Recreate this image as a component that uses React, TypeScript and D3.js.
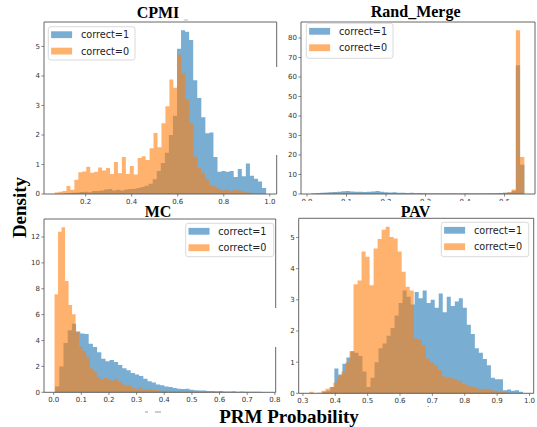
import React from 'react';
import * as d3 from 'd3';

// ---------- data (density histograms, each series: bin start, bin width, densities) ----------
const seriesNames = ['correct=1', 'correct=0'];

const cpmiBlueStart = 0.104, cpmiBlueWidth = 0.0176;
const cpmiBlue = [0.02,0.03,0.04,0.05,0.07,0.08,0.06,0.1,0.1,0.12,0.15,0.17,0.12,0.14,0.12,0.15,0.17,0.18,0.2,0.24,0.28,0.35,0.5,0.78,1.05,1.4,2.0,2.65,4.92,5.55,5.5,5.22,3.85,3.25,2.6,2.06,2.08,1.25,0.75,0.78,0.75,0.78,0.58,0.85,0.6,1.03,0.62,0.52,0.42,0.2];
const cpmiOrangeStart = 0.065, cpmiOrangeWidth = 0.0172;
const cpmiOrange = [0.05,0.08,0.1,0.27,0.14,0.48,0.74,0.76,0.92,0.72,0.75,0.9,0.8,0.88,0.68,1.08,0.7,1.25,0.68,0.95,0.66,1.22,1.28,1.15,1.55,2.07,1.58,2.4,2.97,3.88,3.6,4.73,4.1,3.2,2.4,1.26,0.88,0.72,0.5,0.3,0.25,0.18,0.12,0.15,0.1,0.14,0.12,0.1,0.06,0.04];

const rmStart = 0.0117, rmWidth = 0.01077;
const rmBlue = [0.3,0.5,0.7,0.8,0.9,1.0,1.1,1.4,1.5,1.3,1.1,1.2,1.0,1.1,1.3,1.6,1.2,0.9,0.8,0.9,0.7,0.6,0.5,0.6,0.4,0.5,0.4,0.3,0.3,0.3,0.2,0.3,0.2,0.2,0.3,0.2,0.2,0.3,0.2,0.3,0.2,0.3,0.3,0.4,0.5,0.6,0.8,1.5,66,15];
const rmOrange = [0.2,0.4,0.5,0.5,0.6,0.5,0.6,0.5,0.6,0.5,0.5,0.6,0.5,0.4,0.5,0.5,0.4,0.5,0.4,0.4,0.4,0.3,0.4,0.3,0.3,0.4,0.3,0.3,0.4,0.3,0.3,0.3,0.4,0.3,0.3,0.3,0.4,0.3,0.3,0.4,0.3,0.4,0.4,0.4,0.5,0.6,0.9,2.3,84,19];

const mcBlueStart = 0.005, mcBlueWidth = 0.0152;
const mcBlue = [0.45,2.0,3.8,4.8,5.3,4.7,4.55,4.5,3.75,3.5,3.1,2.6,2.4,2.5,2.35,2.1,1.85,1.7,1.5,1.38,1.25,1.05,0.85,0.75,0.6,0.55,0.45,0.4,0.33,0.28,0.25,0.28,0.2,0.15,0.14,0.13,0.11,0.1,0.09,0.1,0.07,0.06,0.08,0.05,0.06,0.05,0.04,0.05,0.04,0.03];
const mcOrangeStart = 0.003, mcOrangeWidth = 0.0127;
const mcOrange = [7.57,12.4,12.75,8.6,6.74,6.02,4.63,3.52,3.19,2.75,1.85,1.6,1.2,0.95,1.1,1.0,0.9,1.05,0.8,0.6,0.5,0.55,0.35,0.25,0.35,0.2,0.25,0.2,0.18,0.15,0.12,0.1,0.12,0.08,0.08,0.06,0.05,0.06,0.04,0.03,0.03,0.02,0.03,0.02,0.01,0.02,0.01,0.01,0.01,0.01];

const pavBlueStart = 0.36, pavBlueWidth = 0.0124;
const pavBlue = [0.05,0.08,0.2,0.8,0.6,0.95,1.15,1.35,1.3,1.2,0.7,0.2,0.5,1.0,1.45,1.6,1.85,2.1,2.5,2.9,3.3,3.1,2.85,3.25,3.05,3.3,2.9,3.0,2.75,3.2,2.6,3.1,2.8,2.95,3.05,2.75,2.2,1.9,1.45,1.3,1.1,0.9,0.5,0.45,0.45,0.1,0.12,0.08,0.1,0.05];
const pavOrangeStart = 0.32, pavOrangeWidth = 0.0124;
const pavOrange = [0.05,0.0,0.02,0.08,0.15,0.2,0.35,0.55,0.7,1.0,1.35,3.5,3.62,4.55,4.38,3.47,4.65,4.95,5.25,5.35,5.02,4.97,4.55,3.9,3.42,3.3,1.76,1.72,1.55,1.12,1.0,0.9,0.75,0.55,0.5,0.48,0.45,0.4,0.3,0.25,0.22,0.18,0.15,0.12,0.15,0.1,0.08,0.05,0.04,0.02];

const cpmiXTicks = [0.2, 0.4, 0.6, 0.8, 1.0];
const cpmiYTicks = [0, 1, 2, 3, 4, 5];
const rmXTicks = [0.0, 0.1, 0.2, 0.3, 0.4, 0.5];
const rmYTicks = [0, 10, 20, 30, 40, 50, 60, 70, 80];
const mcXTicks = [0.0, 0.1, 0.2, 0.3, 0.4, 0.5, 0.6, 0.7, 0.8];
const mcYTicks = [0, 2, 4, 6, 8, 10, 12];
const pavXTicks = [0.3, 0.4, 0.5, 0.6, 0.7, 0.8, 0.9, 1.0];
const pavYTicks = [0, 1, 2, 3, 4, 5];

// ---------- styling ----------
const BLUE = '#1f77b4';
const ORANGE = '#ff7f0e';
const ALPHA = 0.6;
const SPINE = '#555';
const TICKTEXT = '#333';
const SANS = 'DejaVu Sans, sans-serif';
const SERIF = 'Liberation Serif, Times New Roman, serif';

type Hist = { start: number; width: number; values: number[] };

function edges(h: Hist): [number, number][] {
  const pts: [number, number][] = h.values.map((v, i) => [h.start + i * h.width, v]);
  pts.push([h.start + h.values.length * h.width, h.values[h.values.length - 1]]);
  return pts;
}

type PanelProps = {
  id: string;
  title: string;
  titleX: number;
  titleY: number;
  box: { l: number; t: number; r: number; b: number };
  blue: Hist;
  orange: Hist;
  xTicks: number[];
  yTicks: number[];
  legend: { x: number; y: number; w: number; h: number };
  clipLabelsBelow?: number;
  rightSpine?: [number, number][];
};

function Panel(p: PanelProps) {
  const { box } = p;
  const all = [...edges(p.blue), ...edges(p.orange)];
  const xMin = d3.min(all, (d) => d[0]) as number;
  const xMax = d3.max(all, (d) => d[0]) as number;
  const pad = (xMax - xMin) * 0.05;
  const yMax = (d3.max([...p.blue.values, ...p.orange.values]) as number) * 1.05;
  const x = d3.scaleLinear().domain([xMin - pad, xMax + pad]).range([box.l, box.r]);
  const y = d3.scaleLinear().domain([0, yMax]).range([box.b, box.t]);
  const area = d3
    .area<[number, number]>()
    .x((d) => x(d[0]))
    .y0(y(0))
    .y1((d) => y(d[1]))
    .curve(d3.curveStepAfter);
  const fmtX = d3.format('.1f');
  const lg = p.legend;
  const clipId = `clip-${p.id}`;
  const rightSegs = p.rightSpine ?? [[box.t, box.b]];
  return (
    <g>
      <defs>
        <clipPath id={clipId}>
          <rect x={0} y={0} width={537} height={p.clipLabelsBelow ?? 427} />
        </clipPath>
      </defs>
      <text x={p.titleX} y={p.titleY} textAnchor="middle" fontFamily={SERIF} fontWeight="bold" fontSize={16} fill="#000">
        {p.title}
      </text>
      <path d={area(edges(p.blue)) ?? ''} fill={BLUE} fillOpacity={ALPHA} />
      <path d={area(edges(p.orange)) ?? ''} fill={ORANGE} fillOpacity={ALPHA} />
      {/* spines */}
      <line x1={box.l} x2={box.l} y1={box.t} y2={box.b} stroke={SPINE} strokeWidth={0.9} />
      <line x1={box.l} x2={box.r} y1={box.b} y2={box.b} stroke={SPINE} strokeWidth={0.9} />
      <line x1={box.l} x2={box.r} y1={box.t} y2={box.t} stroke={SPINE} strokeWidth={0.9} />
      {rightSegs.map((s, i) => (
        <line key={i} x1={box.r} x2={box.r} y1={s[0]} y2={s[1]} stroke={SPINE} strokeWidth={0.9} />
      ))}
      {/* y ticks */}
      {p.yTicks.map((t) => (
        <g key={`y${t}`}>
          <line x1={box.l - 2.6} x2={box.l} y1={y(t)} y2={y(t)} stroke={SPINE} strokeWidth={0.7} />
          <text x={box.l - 4} y={y(t)} dy="0.35em" textAnchor="end" fontFamily={SANS} fontSize={7} fill={TICKTEXT}>
            {t}
          </text>
        </g>
      ))}
      {/* x ticks */}
      <g clipPath={`url(#${clipId})`}>
        {p.xTicks.map((t) => (
          <g key={`x${t}`}>
            <line x1={x(t)} x2={x(t)} y1={box.b} y2={box.b + 2.6} stroke={SPINE} strokeWidth={0.7} />
            <text x={x(t)} y={box.b + 9.8} textAnchor="middle" fontFamily={SANS} fontSize={7} fill={TICKTEXT}>
              {fmtX(t)}
            </text>
          </g>
        ))}
      </g>
      {/* legend */}
      <rect x={lg.x} y={lg.y} width={lg.w} height={lg.h} rx={2.5} fill="#fff" fillOpacity={0.8} stroke="#d0d0d0" strokeWidth={0.8} />
      {[BLUE, ORANGE].map((c, i) => (
        <g key={c}>
          <rect x={lg.x + 2.8} y={lg.y + 4.6 + i * 16.4} width={21} height={6.8} fill={c} fillOpacity={ALPHA} />
          <text x={lg.x + 32.6} y={lg.y + 8.2 + i * 16.4} dy="0.36em" fontFamily={SANS} fontSize={9.7} fill="#222">
            {seriesNames[i]}
          </text>
        </g>
      ))}
    </g>
  );
}

export default function App() {
  return (
    <svg width={537} height={427} style={{ position: 'absolute', left: 0, top: 0, background: '#fff' }}>
      <rect x={0} y={0} width={537} height={427} fill="#fff" />
      <Panel
        id="cpmi"
        title="CPMI"
        titleX={158}
        titleY={17.5}
        box={{ l: 44, t: 22, r: 276.7, b: 194 }}
        blue={{ start: cpmiBlueStart, width: cpmiBlueWidth, values: cpmiBlue }}
        orange={{ start: cpmiOrangeStart, width: cpmiOrangeWidth, values: cpmiOrange }}
        xTicks={cpmiXTicks}
        yTicks={cpmiYTicks}
        legend={{ x: 48.3, y: 26.7, w: 86.7, h: 33.3 }}
        rightSpine={[[22, 67], [155, 194]]}
      />
      <Panel
        id="rm"
        title="Rand_Merge"
        titleX={415.7}
        titleY={17}
        box={{ l: 301, t: 22, r: 535, b: 194 }}
        blue={{ start: rmStart, width: rmWidth, values: rmBlue }}
        orange={{ start: rmStart, width: rmWidth, values: rmOrange }}
        xTicks={rmXTicks}
        yTicks={rmYTicks}
        legend={{ x: 306.3, y: 23.3, w: 86.7, h: 35 }}
        clipLabelsBelow={201}
      />
      <Panel
        id="mc"
        title="MC"
        titleX={158}
        titleY={217}
        box={{ l: 44, t: 219, r: 275.7, b: 392.3 }}
        blue={{ start: mcBlueStart, width: mcBlueWidth, values: mcBlue }}
        orange={{ start: mcOrangeStart, width: mcOrangeWidth, values: mcOrange }}
        xTicks={mcXTicks}
        yTicks={mcYTicks}
        legend={{ x: 185.7, y: 223.3, w: 88, h: 33.4 }}
        rightSpine={[[219, 308], [347, 392.3]]}
      />
      <Panel
        id="pav"
        title="PAV"
        titleX={415.5}
        titleY={217}
        box={{ l: 298.7, t: 218.3, r: 533.7, b: 393.3 }}
        blue={{ start: pavBlueStart, width: pavBlueWidth, values: pavBlue }}
        orange={{ start: pavOrangeStart, width: pavOrangeWidth, values: pavOrange }}
        xTicks={pavXTicks}
        yTicks={pavYTicks}
        legend={{ x: 441.3, y: 222.3, w: 87.4, h: 34.4 }}
      />
      {/* small leftover marks from the composited image */}
      <line x1={184} x2={188} y1={20} y2={20} stroke="#bbb" strokeWidth={1} />
      <line x1={145} x2={148} y1={412} y2={412} stroke="#999" strokeWidth={1} />
      <line x1={155} x2={161} y1={412} y2={412} stroke="#999" strokeWidth={1} />
      <line x1={427.5} x2={429} y1={406.5} y2={406.5} stroke="#aaa" strokeWidth={1} />
      <text
        transform="translate(25.5,207.5) rotate(-90)"
        textAnchor="middle"
        fontFamily={SERIF}
        fontWeight="bold"
        fontSize={19}
        fill="#000"
      >
        Density
      </text>
      <text x={289} y={422.5} textAnchor="middle" fontFamily={SERIF} fontWeight="bold" fontSize={19} fill="#000">
        PRM Probability
      </text>
    </svg>
  );
}
